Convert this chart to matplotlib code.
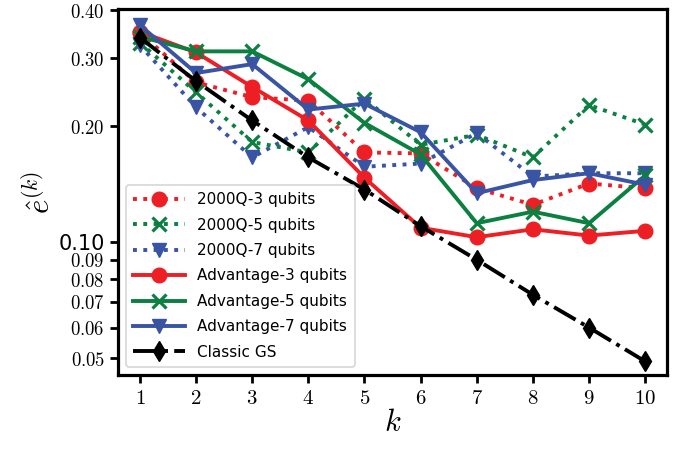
import numpy as np
import matplotlib
matplotlib.use("Agg")
import matplotlib.pyplot as plt
from matplotlib.ticker import FixedLocator, NullFormatter, FixedFormatter

plt.rcParams['mathtext.fontset'] = 'cm'
plt.rcParams['font.family'] = ['DejaVu Sans']

# data
k = [1, 2, 3, 4, 5, 6, 7, 8, 9, 10]
q2000_3 = [0.350, 0.260, 0.238, 0.233, 0.171, 0.170, 0.138, 0.125, 0.142, 0.138]
q2000_5 = [0.330, 0.245, 0.182, 0.171, 0.236, 0.179, 0.190, 0.166, 0.227, 0.202]
q2000_7 = [0.325, 0.224, 0.166, 0.199, 0.157, 0.160, 0.192, 0.148, 0.151, 0.151]
adv_3 = [0.352, 0.311, 0.253, 0.207, 0.147, 0.109, 0.103, 0.108, 0.104, 0.107]
adv_5 = [0.342, 0.313, 0.313, 0.265, 0.204, 0.169, 0.112, 0.120, 0.112, 0.149]
adv_7 = [0.366, 0.275, 0.290, 0.221, 0.229, 0.193, 0.134, 0.145, 0.151, 0.141]
classic = [0.340, 0.262, 0.207, 0.166, 0.137, 0.110, 0.090, 0.073, 0.060, 0.049]

minor_ticks = [0.05, 0.06, 0.07, 0.08, 0.09, 0.2, 0.3, 0.4]

red = '#ed1f24'
green = '#0b8040'
blue = '#3a54a4'

fig = plt.figure(figsize=(6.8, 4.55), dpi=100)
ax = fig.add_axes([0.1735, 0.176, 0.8075, 0.804])

lw = 2.8
ms = 10.5
ax.plot(k, q2000_3, ':', color=red, lw=lw, marker='o', ms=ms, label='2000Q-3 qubits')
ax.plot(k, q2000_5, ':', color=green, lw=lw, marker='x', ms=ms, mew=2.3, label='2000Q-5 qubits')
ax.plot(k, q2000_7, ':', color=blue, lw=lw, marker='v', ms=ms, label='2000Q-7 qubits')
ax.plot(k, adv_3, '-', color=red, lw=lw, marker='o', ms=ms, label='Advantage-3 qubits')
ax.plot(k, adv_5, '-', color=green, lw=lw, marker='x', ms=ms, mew=2.3, label='Advantage-5 qubits')
ax.plot(k, adv_7, '-', color=blue, lw=lw, marker='v', ms=ms, label='Advantage-7 qubits')
ax.plot(k, classic, '-.', color='black', lw=lw, marker='d', ms=ms, label='Classic GS')

ax.set_yscale('log')
ax.set_xlim(0.61, 10.39)
ax.set_ylim(0.0452, 0.403)

ax.set_xticks(k)
ax.set_xticklabels(['$%d$' % i for i in k], fontsize=15)

ax.yaxis.set_major_locator(FixedLocator([0.1]))
ax.yaxis.set_major_formatter(FixedFormatter(['0.10']))
ax.yaxis.set_minor_locator(FixedLocator(minor_ticks))
ax.yaxis.set_minor_formatter(FixedFormatter(['$%.2f$' % v for v in minor_ticks]))
ax.tick_params(axis='y', which='major', labelsize=15)
ax.tick_params(axis='y', which='minor', labelsize=13.5)
ax.tick_params(which='both', length=6, width=2, direction='out')

for s in ax.spines.values():
    s.set_linewidth(2.3)

ax.set_xlabel('$k$', fontsize=22, labelpad=0)
ax.set_ylabel(r'$\hat{e}^{(k)}$', fontsize=22, labelpad=2)

leg = ax.legend(loc='lower left', fontsize=11, handlelength=3.4, borderpad=0.5,
                labelspacing=0.68, bbox_to_anchor=(0.0, 0.0))
leg.get_frame().set_linewidth(1.2)

fig.savefig('out.png', dpi=100)
